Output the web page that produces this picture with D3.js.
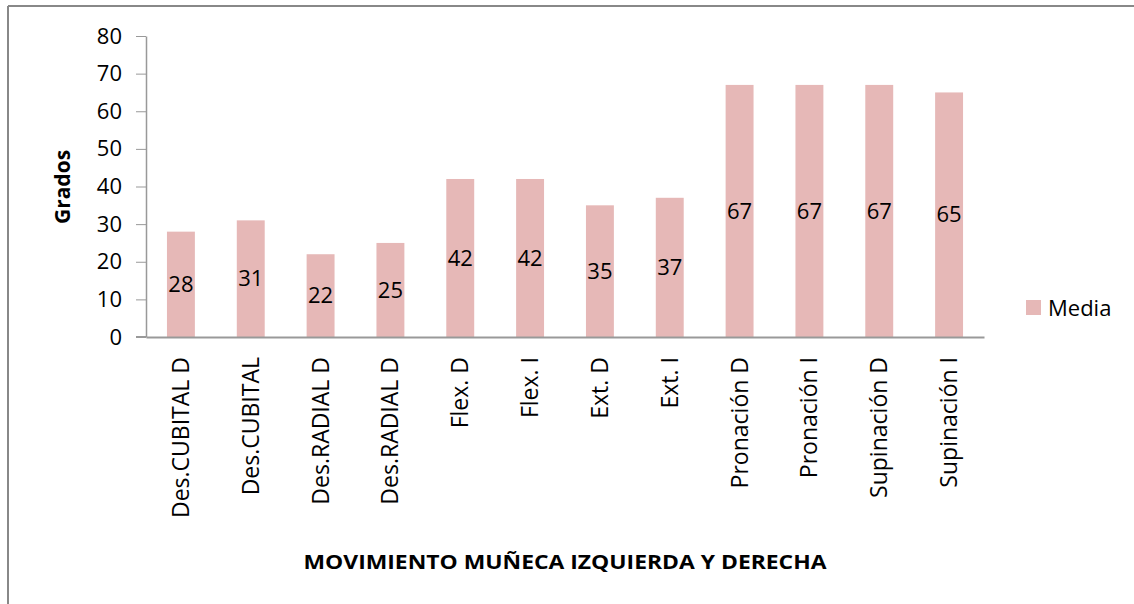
<!DOCTYPE html>
<html>
<head>
<meta charset="utf-8">
<script src="https://cdnjs.cloudflare.com/ajax/libs/d3/7.8.5/d3.min.js"></script>
<style>
  body { margin: 0; background: #fff; }
  text { font-family: "Open Sans", "Noto Sans", sans-serif; fill: #000; }
</style>
</head>
<body>
<div id="chart"></div>
<script>
// data
var categories = ["Des.CUBITAL D", "Des.CUBITAL", "Des.RADIAL D", "Des.RADIAL D",
  "Flex. D", "Flex. I", "Ext. D", "Ext. I",
  "Pronación D", "Pronación I", "Supinación D", "Supinación I"];
var media = [28, 31, 22, 25, 42, 42, 35, 37, 67, 67, 67, 65];
var yTicks = [0, 10, 20, 30, 40, 50, 60, 70, 80];
var seriesName = "Media";
var xTitle = "MOVIMIENTO MUÑECA IZQUIERDA Y DERECHA";
var yTitle = "Grados";

var barColor = "#e6b8b7";
var axisColor = "#999999";

var W = 1134, H = 604;
var margin = { top: 36, left: 146, right: 150, bottom: 267 },
    width = W - margin.left - margin.right,
    height = H - margin.top - margin.bottom;

var root = d3.select("#chart").append("svg")
    .attr("width", W)
    .attr("height", H);

// chart frame (only top and left edges are visible)
root.append("line")
    .attr("x1", 8).attr("y1", 6).attr("x2", W).attr("y2", 6)
    .attr("stroke", "#888").attr("stroke-width", 2)
root.append("line")
    .attr("x1", 8).attr("y1", 6).attr("x2", 8).attr("y2", H)
    .attr("stroke", "#888").attr("stroke-width", 2)

var svg = root.append("g")
    .attr("transform", "translate(" + margin.left + "," + margin.top + ")");

var x = d3.scaleBand()
    .domain(d3.range(categories.length))
    .range([0, width])
    .paddingInner(0.6)
    .paddingOuter(0.3);

var y = d3.scaleLinear()
    .domain([0, 80])
    .range([height, 0]);

// bars
svg.append("g")
    .selectAll("rect")
    .data(media)
    .enter()
    .append("rect")
    .attr("x", function (d, i) { return x(i) })
    .attr("y", function (d) { return y(d) })
    .attr("width", x.bandwidth())
    .attr("height", function (d) { return y(0) - y(d) })
    .attr("fill", barColor)

// value labels, centred in each bar
svg.append("g")
    .selectAll("text")
    .data(media)
    .enter()
    .append("text")
    .attr("x", function (d, i) { return x(i) + x.bandwidth() / 2 })
    .attr("y", function (d) { return y(d / 2) })
    .attr("dy", "0.35em")
    .attr("text-anchor", "middle")
    .style("font-size", "22px")
    .text(function (d) { return d })

// y axis
var yAxis = svg.append("g")
    .call(d3.axisLeft(y).tickValues(yTicks).tickSize(10).tickPadding(14).tickSizeOuter(0));
yAxis.select(".domain").attr("stroke", axisColor).attr("stroke-width", 1.5);
yAxis.selectAll(".tick line").attr("stroke", axisColor);
yAxis.selectAll(".tick text").style("font-size", "22px").attr("font-family", null);

// x axis
var xAxis = svg.append("g")
    .attr("transform", "translate(0," + height + ")")
    .call(d3.axisBottom(x).tickSize(0).tickSizeOuter(0).tickFormat(function (i) { return categories[i] }));
xAxis.select(".domain").attr("stroke", axisColor).attr("stroke-width", 2);
xAxis.selectAll(".tick text")
    .attr("font-family", null)
    .style("font-size", "23px")
    .attr("transform", "rotate(-90)")
    .attr("text-anchor", "end")
    .attr("x", -20)
    .attr("y", 0)
    .attr("dy", "0.35em");

// extend x axis line to the left so it meets the zero tick
svg.append("line")
    .attr("x1", -10).attr("x2", 0)
    .attr("y1", y(0)).attr("y2", y(0))
    .attr("stroke", axisColor).attr("stroke-width", 2)

// axis titles
root.append("text")
    .attr("transform", "translate(70,187) rotate(-90)")
    .attr("text-anchor", "middle")
    .style("font-size", "21px")
    .style("font-weight", "bold")
    .text(yTitle)

root.append("text")
    .attr("x", 565)
    .attr("y", 569)
    .attr("text-anchor", "middle")
    .style("font-size", "19px")
    .style("font-weight", "bold")
    .attr("textLength", 523)
    .attr("lengthAdjust", "spacingAndGlyphs")
    .text(xTitle)

// legend
var legend = root.append("g").attr("transform", "translate(1026,300)");
legend.append("rect")
    .attr("width", 15).attr("height", 15)
    .attr("fill", barColor)
legend.append("text")
    .attr("x", 22).attr("y", 8)
    .attr("dy", "0.35em")
    .style("font-size", "22px")
    .text(seriesName)
</script>
</body>
</html>
